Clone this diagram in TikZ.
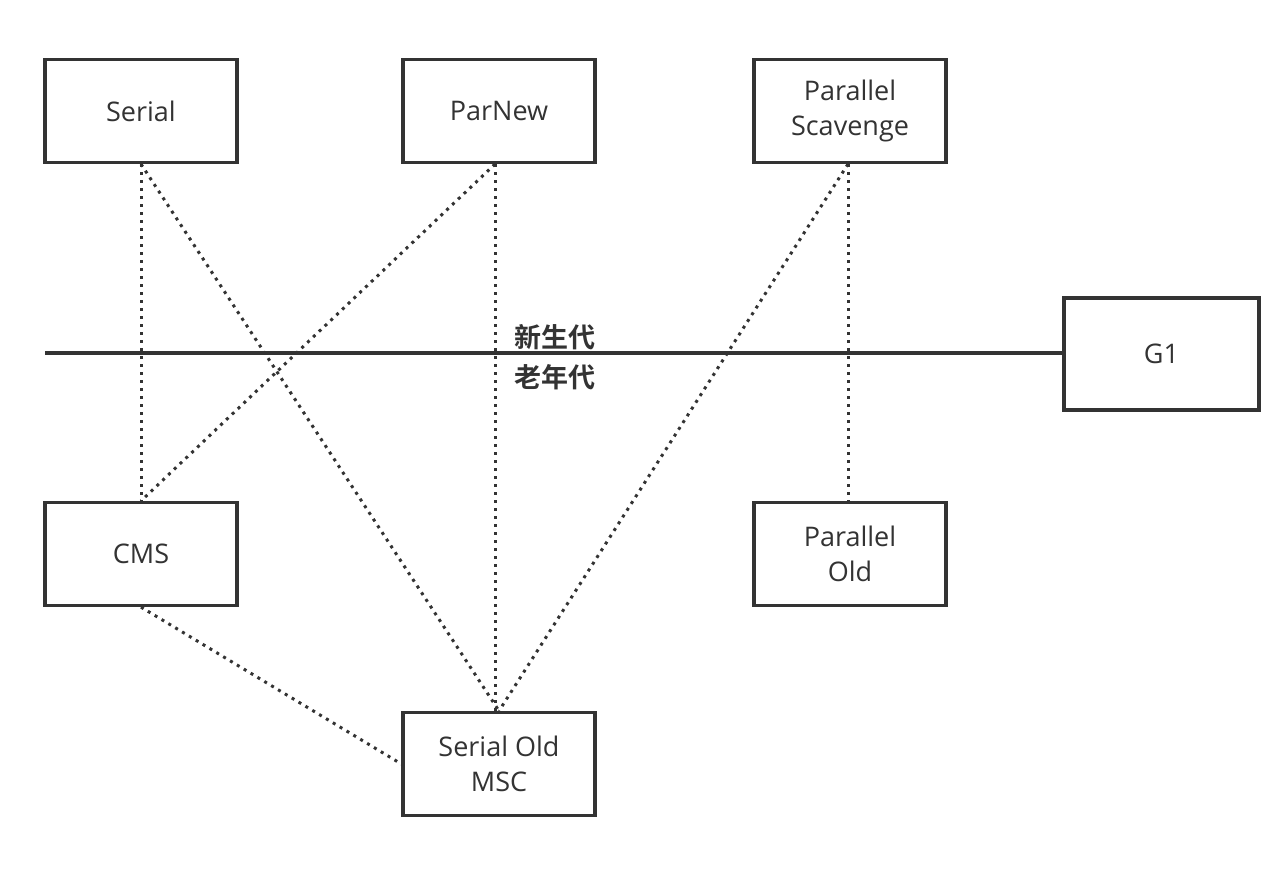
\documentclass[tikz,border=0pt]{standalone}
\usepackage{fontspec}
\setmainfont{Open Sans}
\newfontfamily\cjk{Noto Sans CJK SC}[BoldFont={Noto Sans CJK SC Bold}]
\definecolor{ink}{HTML}{333333}
\tikzset{
    gcbox/.style={draw=ink,line width=3.2pt,minimum width=192pt,minimum height=103pt,
        align=center,text=ink,font=\fontsize{27}{35}\selectfont,inner sep=0pt},
    link/.style={draw=ink,line width=3pt,dash pattern=on 3pt off 5pt},
    genlabel/.style={text=ink,font=\cjk\bfseries\fontsize{27}{30}\selectfont,inner sep=0pt}
}
\begin{document}
\begin{tikzpicture}[x=1pt,y=-1pt]
    \useasboundingbox (0,0) rectangle (1288,870);
    % collectors
    \node[gcbox] (serial) at (141,111) {Serial};
    \node[gcbox] (parnew) at (499,111) {ParNew};
    \node[gcbox] (scavenge) at (850,111) {Parallel\\Scavenge};
    \node[gcbox,minimum width=195pt,minimum height=112pt] (g1) at (1161.5,354) {G1};
    \node[gcbox] (cms) at (141,554) {CMS};
    \node[gcbox] (parold) at (850,554) {Parallel\\Old};
    \node[gcbox] (serialold) at (499,764) {Serial Old\\MSC};
    % generation border
    \coordinate (border) at (45,353);
    \draw[ink,line width=3.2pt] (border) -- (border -| g1.west);
    \node[genlabel] (young) at (555,337) {新生代};
    \node[genlabel] (old) at (555,377) {老年代};
    % combinations
    \draw[link] (serial.south) -- (cms.north);
    \draw[link] (serial.south) -- (serialold.north);
    \draw[link] ([xshift=-4pt]parnew.south) -- (cms.north);
    \draw[link] ([xshift=-4pt]parnew.south) -- ([xshift=-4pt]serialold.north);
    \draw[link] ([xshift=-2pt]scavenge.south) -- (serialold.north);
    \draw[link] ([xshift=-2pt]scavenge.south) -- ([xshift=-2pt]parold.north);
    \draw[link] (cms.south) -- (serialold.west);
\end{tikzpicture}
\end{document}
